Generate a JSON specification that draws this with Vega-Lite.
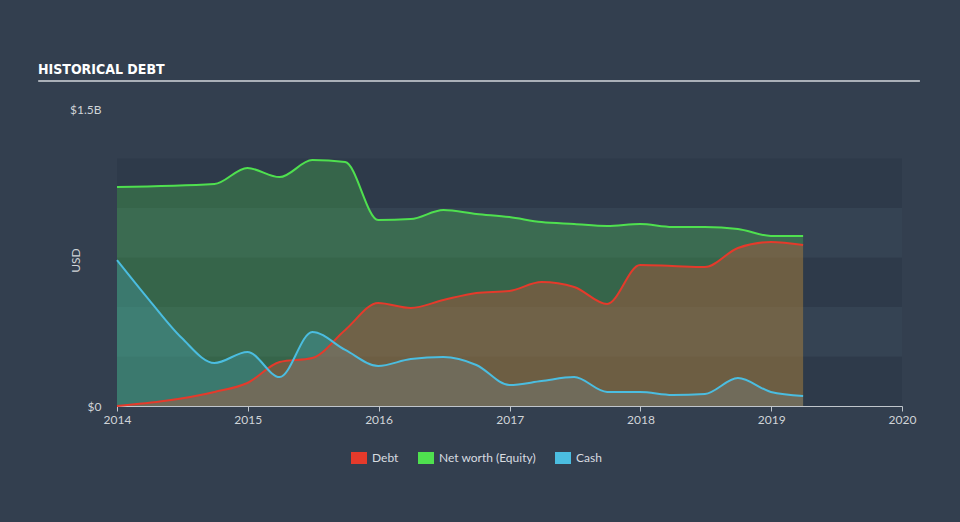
{
  "$schema": "https://vega.github.io/schema/vega-lite/v6.json",
  "width": 785,
  "height": 297,
  "autosize": "none",
  "padding": {"left": 117, "top": 109, "right": 58, "bottom": 116},
  "background": "#333f4f",
  "config": {
    "view": {"stroke": null},
    "font": "Lato",
    "axis": {"labelFont": "Lato", "titleFont": "Lato"}
  },
  "title": {
    "text": "HISTORICAL DEBT",
    "anchor": "start",
    "frame": "group",
    "font": "DejaVu Sans Condensed",
    "fontSize": 14,
    "fontWeight": "bold",
    "color": "#ffffff",
    "dx": -79,
    "dy": 26,
    "offset": 18,
    "baseline": "alphabetic"
  },
  "datasets": {
    "bands": [
      {"lo": 0, "hi": 250000000, "shade": "dark"},
      {"lo": 250000000, "hi": 500000000, "shade": "light"},
      {"lo": 500000000, "hi": 750000000, "shade": "dark"},
      {"lo": 750000000, "hi": 1000000000, "shade": "light"},
      {"lo": 1000000000, "hi": 1250000000, "shade": "dark"}
    ],
    "fin": [
      {"date": "2014-01-01", "series": "Net worth (Equity)", "value": 1106000000},
      {"date": "2014-09-30", "series": "Net worth (Equity)", "value": 1121000000},
      {"date": "2014-12-31", "series": "Net worth (Equity)", "value": 1202000000},
      {"date": "2015-03-31", "series": "Net worth (Equity)", "value": 1156000000},
      {"date": "2015-06-30", "series": "Net worth (Equity)", "value": 1242000000},
      {"date": "2015-09-30", "series": "Net worth (Equity)", "value": 1232000000},
      {"date": "2015-12-31", "series": "Net worth (Equity)", "value": 939000000},
      {"date": "2016-03-31", "series": "Net worth (Equity)", "value": 944000000},
      {"date": "2016-06-30", "series": "Net worth (Equity)", "value": 990000000},
      {"date": "2016-09-30", "series": "Net worth (Equity)", "value": 970000000},
      {"date": "2016-12-31", "series": "Net worth (Equity)", "value": 954000000},
      {"date": "2017-03-31", "series": "Net worth (Equity)", "value": 929000000},
      {"date": "2017-06-30", "series": "Net worth (Equity)", "value": 919000000},
      {"date": "2017-09-30", "series": "Net worth (Equity)", "value": 909000000},
      {"date": "2017-12-31", "series": "Net worth (Equity)", "value": 919000000},
      {"date": "2018-03-31", "series": "Net worth (Equity)", "value": 904000000},
      {"date": "2018-06-30", "series": "Net worth (Equity)", "value": 904000000},
      {"date": "2018-09-30", "series": "Net worth (Equity)", "value": 894000000},
      {"date": "2018-12-31", "series": "Net worth (Equity)", "value": 859000000},
      {"date": "2019-03-31", "series": "Net worth (Equity)", "value": 859000000},
      {"date": "2014-01-01", "series": "Debt", "value": 0},
      {"date": "2014-09-30", "series": "Debt", "value": 71000000},
      {"date": "2014-12-31", "series": "Debt", "value": 116000000},
      {"date": "2015-03-31", "series": "Debt", "value": 222000000},
      {"date": "2015-06-30", "series": "Debt", "value": 242000000},
      {"date": "2015-09-30", "series": "Debt", "value": 384000000},
      {"date": "2015-12-31", "series": "Debt", "value": 520000000},
      {"date": "2016-03-31", "series": "Debt", "value": 495000000},
      {"date": "2016-06-30", "series": "Debt", "value": 535000000},
      {"date": "2016-09-30", "series": "Debt", "value": 571000000},
      {"date": "2016-12-31", "series": "Debt", "value": 581000000},
      {"date": "2017-03-31", "series": "Debt", "value": 626000000},
      {"date": "2017-06-30", "series": "Debt", "value": 601000000},
      {"date": "2017-09-30", "series": "Debt", "value": 515000000},
      {"date": "2017-12-31", "series": "Debt", "value": 712000000},
      {"date": "2018-03-31", "series": "Debt", "value": 707000000},
      {"date": "2018-06-30", "series": "Debt", "value": 702000000},
      {"date": "2018-09-30", "series": "Debt", "value": 798000000},
      {"date": "2018-12-31", "series": "Debt", "value": 828000000},
      {"date": "2019-03-31", "series": "Debt", "value": 813000000},
      {"date": "2014-01-01", "series": "Cash", "value": 737000000},
      {"date": "2014-04-01", "series": "Cash", "value": 535000000},
      {"date": "2014-07-01", "series": "Cash", "value": 343000000},
      {"date": "2014-09-30", "series": "Cash", "value": 217000000},
      {"date": "2014-12-31", "series": "Cash", "value": 273000000},
      {"date": "2015-03-31", "series": "Cash", "value": 146000000},
      {"date": "2015-06-30", "series": "Cash", "value": 374000000},
      {"date": "2015-09-30", "series": "Cash", "value": 283000000},
      {"date": "2015-12-31", "series": "Cash", "value": 202000000},
      {"date": "2016-03-31", "series": "Cash", "value": 237000000},
      {"date": "2016-06-30", "series": "Cash", "value": 247000000},
      {"date": "2016-09-30", "series": "Cash", "value": 207000000},
      {"date": "2016-12-31", "series": "Cash", "value": 106000000},
      {"date": "2017-03-31", "series": "Cash", "value": 126000000},
      {"date": "2017-06-30", "series": "Cash", "value": 146000000},
      {"date": "2017-09-30", "series": "Cash", "value": 71000000},
      {"date": "2017-12-31", "series": "Cash", "value": 71000000},
      {"date": "2018-03-31", "series": "Cash", "value": 56000000},
      {"date": "2018-06-30", "series": "Cash", "value": 61000000},
      {"date": "2018-09-30", "series": "Cash", "value": 141000000},
      {"date": "2018-12-31", "series": "Cash", "value": 71000000},
      {"date": "2019-03-31", "series": "Cash", "value": 51000000}
    ]
  },
  "layer": [
    {
      "data": {"name": "bands"},
      "transform": [{"filter": "datum.shade == 'dark'"}],
      "mark": {"type": "rect", "color": "#2e3a4a"},
      "encoding": {
        "y": {"field": "lo", "type": "quantitative", "scale": {"domain": [0, 1500000000]}},
        "y2": {"field": "hi"}
      }
    },
    {
      "data": {"name": "bands"},
      "transform": [{"filter": "datum.shade == 'light'"}],
      "mark": {"type": "rect", "color": "#354353"},
      "encoding": {
        "y": {"field": "lo", "type": "quantitative", "scale": {"domain": [0, 1500000000]}},
        "y2": {"field": "hi"}
      }
    },
    {
      "data": {"name": "fin"},
      "transform": [{"filter": "datum.series == 'Net worth (Equity)'"}],
      "mark": {"type": "area", "interpolate": "monotone", "color": "#4fe04f", "opacity": 0.26},
      "encoding": {
        "x": {"field": "date", "type": "temporal", "scale": {"domain": ["2014-01-01", "2020-01-01"]}},
        "y": {"field": "value", "type": "quantitative", "scale": {"domain": [0, 1500000000]}}
      }
    },
    {
      "data": {"name": "fin"},
      "transform": [{"filter": "datum.series == 'Cash'"}],
      "mark": {"type": "area", "interpolate": "monotone", "color": "#4bbde0", "opacity": 0.24},
      "encoding": {
        "x": {"field": "date", "type": "temporal", "scale": {"domain": ["2014-01-01", "2020-01-01"]}},
        "y": {"field": "value", "type": "quantitative", "scale": {"domain": [0, 1500000000]}}
      }
    },
    {
      "data": {"name": "fin"},
      "transform": [{"filter": "datum.series == 'Debt'"}],
      "mark": {"type": "area", "interpolate": "monotone", "color": "#c9553a", "opacity": 0.38},
      "encoding": {
        "x": {"field": "date", "type": "temporal", "scale": {"domain": ["2014-01-01", "2020-01-01"]}},
        "y": {"field": "value", "type": "quantitative", "scale": {"domain": [0, 1500000000]}}
      }
    },
    {
      "data": {"name": "fin"},
      "mark": {"type": "line", "interpolate": "monotone", "strokeWidth": 2},
      "encoding": {
        "x": {
          "field": "date",
          "type": "temporal",
          "scale": {"domain": ["2014-01-01", "2020-01-01"]},
          "axis": {
            "title": null,
            "format": "%Y",
            "tickCount": {"interval": "year", "step": 1},
            "grid": false,
            "labelFlush": false,
            "domainColor": "#c0c6cc",
            "tickColor": "#c0c6cc",
            "tickSize": 5,
            "labelPadding": 3,
            "labelColor": "#d0d4d8",
            "labelFontSize": 12
          }
        },
        "y": {
          "field": "value",
          "type": "quantitative",
          "scale": {"domain": [0, 1500000000]},
          "axis": {
            "title": "USD",
            "values": [0, 1500000000],
            "labelExpr": "datum.value == 0 ? '$0' : '$1.5B'",
            "grid": false,
            "domain": false,
            "ticks": false,
            "tickSize": 0,
            "labelPadding": 16,
            "labelFlush": false,
            "labelColor": "#d0d4d8",
            "labelFontSize": 12,
            "titleColor": "#d0d4d8",
            "titleFontSize": 12,
            "titleFontWeight": "normal",
            "titleX": -42,
            "titleY": 151,
            "titleAngle": -90,
            "titleAlign": "center",
            "titleBaseline": "middle"
          }
        },
        "color": {
          "field": "series",
          "type": "nominal",
          "scale": {
            "domain": ["Debt", "Net worth (Equity)", "Cash"],
            "range": ["#e53a2b", "#4fe04f", "#4bbde0"]
          },
          "legend": {
            "title": null,
            "orient": "none",
            "direction": "horizontal",
            "legendX": 234,
            "legendY": 341,
            "symbolType": "M-1,-0.75H1V0.75H-1Z",
            "symbolSize": 256,
            "symbolStrokeWidth": 0,
            "symbolOpacity": 1,
            "labelColor": "#d8dce0",
            "labelFontSize": 12,
            "labelOffset": 5,
            "columnPadding": 19,
            "encode": {
              "symbols": {
                "update": {
                  "fill": {"scale": "color", "field": "value"},
                  "strokeWidth": {"value": 0}
                }
              }
            }
          }
        }
      }
    },
    {
      "data": {"values": [{}]},
      "mark": {"type": "rule", "color": "#aab0b8", "strokeWidth": 2, "clip": false},
      "encoding": {
        "x": {"datum": {"year": 2013, "month": 5, "date": 26}, "type": "temporal", "scale": {"domain": ["2014-01-01", "2020-01-01"]}},
        "x2": {"datum": {"year": 2020, "month": 2, "date": 20}},
        "y": {"datum": 1641000000, "type": "quantitative", "scale": {"domain": [0, 1500000000]}}
      }
    }
  ]
}
